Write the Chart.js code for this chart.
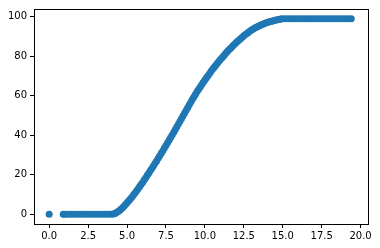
<!DOCTYPE html>
<html>
<head>
<meta charset="utf-8">
<script src="https://cdn.jsdelivr.net/npm/chart.js@4"></script>
<style>
html,body{margin:0;padding:0;background:#fff;}
canvas{display:block;}
</style>
</head>
<body>
<canvas id="chart" width="380" height="248"></canvas>
<script>
// values
const xs = [0,
  0.9,1.0,1.2,1.4,1.6,1.8,2.0,2.2,2.4,2.6,2.8,3.0,3.2,3.4,3.6,3.8,
  4.0,4.1,4.2,4.3,4.4,4.5,4.6,4.7,4.8,4.9,5.0,5.1,5.2,5.3,5.4,5.5,5.6,5.7,5.8,5.9,
  6.0,6.1,6.2,6.3,6.4,6.5,6.6,6.7,6.8,6.9,7.0,7.1,7.2,7.3,7.4,7.5,7.6,7.7,7.8,7.9,
  8.0,8.1,8.2,8.3,8.4,8.5,8.6,8.7,8.8,8.9,9.0,9.1,9.2,9.3,9.4,9.5,9.6,9.7,9.8,9.9,
  10.0,10.1,10.2,10.3,10.4,10.5,10.6,10.7,10.8,10.9,11.0,11.1,11.2,11.3,11.4,11.5,11.6,11.7,11.8,11.9,
  12.0,12.1,12.2,12.3,12.4,12.5,12.6,12.7,12.8,12.9,13.0,13.1,13.2,13.3,13.4,13.5,13.6,13.7,13.8,13.9,
  14.0,14.1,14.2,14.3,14.4,14.5,14.6,14.7,14.8,14.9,15.0,
  15.2,15.4,15.6,15.8,16.0,16.2,16.4,16.6,16.8,17.0,17.2,17.4,17.6,17.8,18.0,18.2,18.4,18.6,18.8,19.0,19.2,19.4];
const ys = [0,
  0,0,0,0,0,0,0,0,0,0,0,0,0,0,0,0,
  0,0.1,0.3,0.7,1.2,1.8,2.5,3.2,4.0,4.9,5.8,6.7,7.6,8.6,9.6,10.6,11.7,12.8,13.9,15.0,
  16.1,17.3,18.5,19.7,20.9,22.1,23.3,24.5,25.8,27.0,28.3,29.6,30.9,32.2,33.5,34.8,36.2,37.5,38.8,40.1,
  41.5,42.9,44.3,45.7,47.1,48.5,49.9,51.3,52.7,54.1,55.5,56.9,58.2,59.5,60.8,62.1,63.3,64.5,65.7,66.9,
  68.0,69.1,70.2,71.3,72.4,73.5,74.5,75.5,76.5,77.5,78.4,79.3,80.2,81.1,82.0,82.9,83.7,84.5,85.3,86.1,
  86.8,87.6,88.3,89.0,89.7,90.4,91.0,91.6,92.2,92.8,93.3,93.8,94.3,94.7,95.1,95.5,95.9,96.2,96.5,96.8,
  97.1,97.4,97.6,97.8,98.0,98.2,98.4,98.6,98.8,98.9,99.0,
  99,99,99,99,99,99,99,99,99,99,99,99,99,99,99,99,99,99,99,99,99,99];
const xTicks = [0,2.5,5,7.5,10,12.5,15,17.5,20];
const yTicks = [0,20,40,60,80,100];

const points = xs.map((x,i)=>({x:x,y:ys[i]}));

const frame = {
  id:"frame",
  afterDraw(chart){
    const a = chart.chartArea, c = chart.ctx;
    c.save();
    c.strokeStyle = "#000";
    c.lineWidth = 1;
    c.strokeRect(Math.round(a.left)+0.5, Math.round(a.top)+0.5, Math.round(a.right-a.left), Math.round(a.bottom-a.top));
    c.restore();
  }
};

const tickFont = {family:"DejaVu Sans", size:10};

new Chart(document.getElementById("chart"),{
  type:"scatter",
  data:{datasets:[{
    data:points,
    backgroundColor:"#1f77b4",
    borderColor:"#1f77b4",
    borderWidth:0,
    pointRadius:3.5,
    pointHoverRadius:3.5
  }]},
  options:{
    responsive:false,
    animation:false,
    devicePixelRatio:1,
    layout:{padding:{top:6,right:12,left:0,bottom:0}},
    plugins:{legend:{display:false},tooltip:{enabled:false}},
    scales:{
      x:{
        type:"linear",
        min:-0.975, max:20.475,
        afterBuildTicks:s=>{ s.ticks = xTicks.map(v=>({value:v})); },
        afterFit:s=>{ s.height = 24; },
        grid:{drawOnChartArea:false, drawTicks:true, tickLength:4, tickColor:"#000"},
        border:{display:true,color:"#000",width:1},
        ticks:{color:"#000", font:tickFont, padding:2, maxRotation:0,
          callback:v=>v.toFixed(1)}
      },
      y:{
        type:"linear",
        min:-4.95, max:103.95,
        afterBuildTicks:s=>{ s.ticks = yTicks.map(v=>({value:v})); },
        afterFit:s=>{ s.width = 34; },
        grid:{drawOnChartArea:false, drawTicks:true, tickLength:4, tickColor:"#000"},
        border:{display:true,color:"#000",width:1},
        ticks:{color:"#000", font:tickFont, padding:3,
          callback:v=>String(v)}
      }
    }
  },
  plugins:[frame]
});
</script>
</body>
</html>
